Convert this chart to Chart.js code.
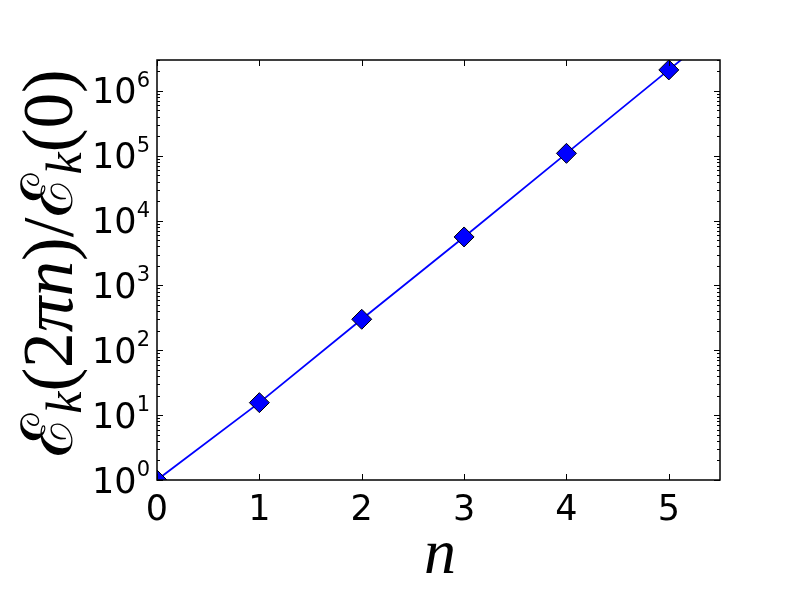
<!DOCTYPE html>
<html><head><meta charset="utf-8">
<script src="https://cdn.jsdelivr.net/npm/chart.js@4.4.0/dist/chart.umd.min.js"></script>
<style>html,body{margin:0;background:#fff}</style>
</head><body>
<canvas id="c" width="800" height="600"></canvas>
<script>
/* ------------ data ------------ */
const N_VALUES    = [0, 1, 2, 3, 4, 5];
const E_RATIO     = [1, 15.6, 301, 5600, 1.09e5, 2.11e6];
const CURVE_N     = [0, 1, 2, 3, 4, 5, 5.5];
const CURVE_E     = [1, 15.6, 301, 5600, 1.09e5, 2.11e6, 9.3e6];
const X_TICKS     = [0, 1, 2, 3, 4, 5];
const Y_EXPONENTS = [0, 1, 2, 3, 4, 5, 6];

/* ------------ frame, inward ticks, log labels, titles ------------ */
const framePlugin = {
  id:'frame',
  afterDraw(chart){
    const {ctx, chartArea:a, scales:{x, y}} = chart;
    ctx.save();
    ctx.strokeStyle = '#000'; ctx.lineWidth = 1;
    ctx.beginPath();
    X_TICKS.forEach(v=>{
      const px = Math.round(x.getPixelForValue(v)) + .5;
      ctx.moveTo(px, a.bottom); ctx.lineTo(px, a.bottom-6);
      ctx.moveTo(px, a.top);    ctx.lineTo(px, a.top+6);
    });
    Y_EXPONENTS.forEach(k=>{
      for(let m=1;m<10;m++){
        const v = m*Math.pow(10,k);
        if(v>y.max) break;
        const len = m===1 ? 6 : 3;
        const py = Math.round(y.getPixelForValue(v)) + .5;
        ctx.moveTo(a.left, py);  ctx.lineTo(a.left+len, py);
        ctx.moveTo(a.right, py); ctx.lineTo(a.right-len, py);
      }
    });
    ctx.stroke();
    ctx.lineWidth = 1.5;
    ctx.strokeRect(a.left, a.top, a.right-a.left, a.bottom-a.top);

    /* y tick labels: 10 with raised exponent */
    ctx.fillStyle = '#000';
    ctx.textBaseline = 'alphabetic';
    Y_EXPONENTS.forEach(k=>{
      const py = y.getPixelForValue(Math.pow(10,k));
      ctx.font = '21px "DejaVu Sans"';
      const ew = ctx.measureText(String(k)).width;
      ctx.textAlign = 'right';
      ctx.fillText(String(k), a.left-7, py-4);
      ctx.font = '35px "DejaVu Sans"';
      ctx.fillText('10', a.left-7-ew, py+12.5);
    });

    /* x title */
    ctx.font = 'italic 64px "Liberation Serif"';
    ctx.textAlign = 'center';
    ctx.fillText('n', 440, 573);

    /* y title: ℰ_k(2πn)/ℰ_k(0) */
    const parts = [['ℰ','s'],['k','sub'],['(','r'],['2','r'],['π','i'],['n','i'],[')','r'],['/','r'],
                   ['ℰ','s'],['k','sub'],['(','r'],['0','r'],[')','r']];
    const fontFor = (kind, sz) => kind==='r'  ? `${sz}px "Liberation Serif"`
                              : kind==='i'  ? `italic ${sz}px "Liberation Serif"`
                              : kind==='s'  ? `${sz}px "DejaVu Serif"`
                              :               `italic ${sz*0.7}px "Liberation Serif"`;
    let sz = 60, total = 0;
    parts.forEach(p=>{ ctx.font = fontFor(p[1], sz); total += ctx.measureText(p[0]).width; });
    sz = sz * 387 / total;
    total = 0;
    parts.forEach(p=>{ ctx.font = fontFor(p[1], sz); total += ctx.measureText(p[0]).width; });
    ctx.translate(72, 263);
    ctx.rotate(-Math.PI/2);
    ctx.textAlign = 'left';
    let cx = -total/2;
    parts.forEach(p=>{
      ctx.font = fontFor(p[1], sz);
      ctx.fillText(p[0], cx, p[1]==='sub' ? sz*0.12 : 0);
      cx += ctx.measureText(p[0]).width;
    });
    ctx.restore();
  }
};

/* ------------ chart ------------ */
new Chart(document.getElementById('c'), {
  type:'scatter',
  data:{datasets:[
    {data:CURVE_N.map((n,i)=>({x:n, y:CURVE_E[i]})), showLine:true, borderColor:'#0000ff',
     borderWidth:1.8, pointRadius:0, clip:0, order:2},
    {data:N_VALUES.map((n,i)=>({x:n, y:E_RATIO[i]})), showLine:false, pointStyle:'rectRot',
     pointRadius:10, pointHoverRadius:10, backgroundColor:'#0000ff', borderColor:'#000',
     borderWidth:1, clip:0, order:1}
  ]},
  options:{
    responsive:false, animation:false,
    layout:{padding:{top:60, right:80, left:0, bottom:0}},
    plugins:{legend:{display:false}, tooltip:{enabled:false}},
    scales:{
      x:{type:'linear', min:0, max:5.5,
         grid:{display:false}, border:{display:false},
         afterBuildTicks:s=>{ s.ticks = X_TICKS.map(v=>({value:v})); },
         afterFit:s=>{ s.height = 120; },
         ticks:{autoSkip:false, maxRotation:0, padding:2, color:'#000',
                font:{family:'DejaVu Sans', size:35}}},
      y:{type:'logarithmic', min:1, max:3e6,
         grid:{display:false}, border:{display:false},
         afterBuildTicks:s=>{ s.ticks = Y_EXPONENTS.map(k=>({value:Math.pow(10,k)})); },
         afterFit:s=>{ s.width = 157; },
         ticks:{display:false}}
    }
  },
  plugins:[framePlugin]
});
</script>
</body></html>
